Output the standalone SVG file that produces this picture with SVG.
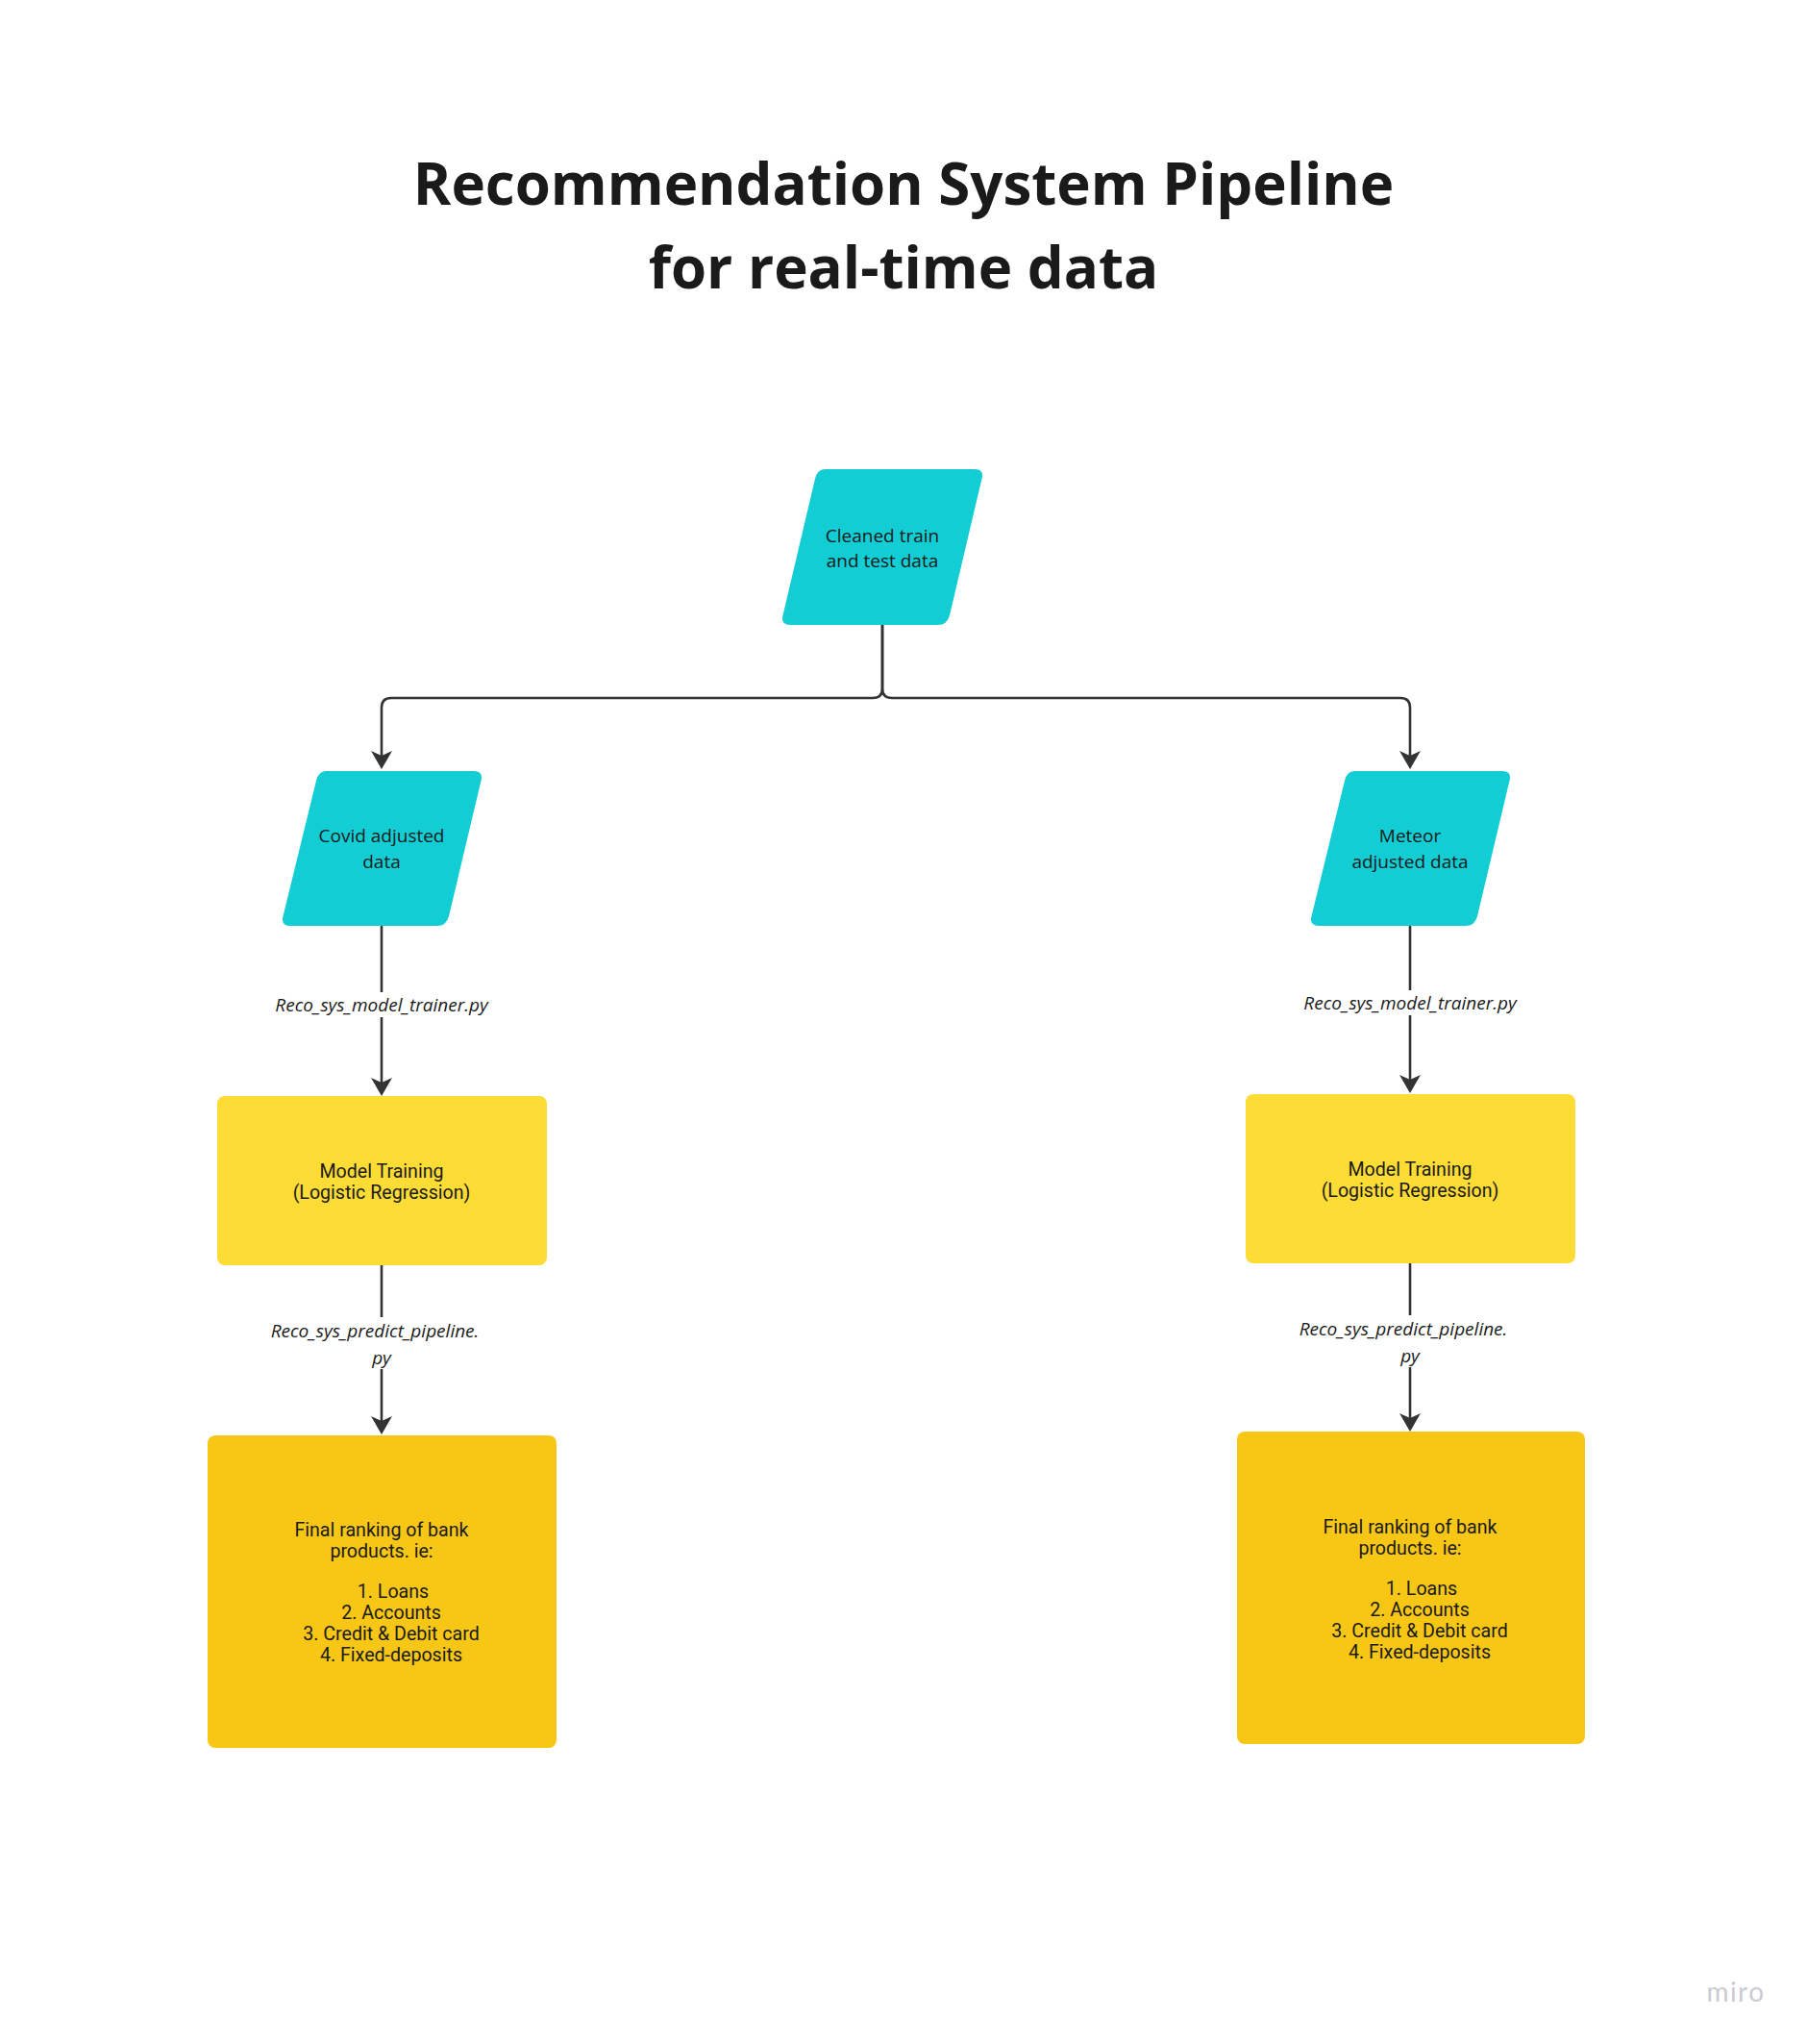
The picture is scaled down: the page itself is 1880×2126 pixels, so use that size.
<svg xmlns="http://www.w3.org/2000/svg" width="1880" height="2126" viewBox="0 0 1880 2126">
<style>
.title{font-family:"Open Sans","Noto Sans",sans-serif;font-weight:700;font-size:60px;fill:#1a1a1a;text-anchor:middle}
.para{fill:#12CDD4}
.ptxt{font-family:"Open Sans","Noto Sans",sans-serif;font-size:19px;fill:#1a1a1a;text-anchor:middle}
.btxt{font-family:Roboto,"Liberation Sans",sans-serif;font-size:19.6px;fill:#1a1a1a;text-anchor:middle}
.lbl{font-family:"Open Sans","Noto Sans",sans-serif;font-style:italic;font-size:19px;fill:#1a1a1a;text-anchor:middle}
.conn{fill:none;stroke:#333333;stroke-width:2.6}
.y1{fill:#FEDC36}
.y2{fill:#F8C715}
</style>
<defs>
<marker id="arr" markerUnits="userSpaceOnUse" markerWidth="26" markerHeight="26" viewBox="-2 -13 26 26" refX="16" refY="0" orient="auto">
<path d="M0,-11 L19,0 L0,11 L5,0 Z" fill="#333333"/>
</marker>
</defs>
<rect width="1880" height="2126" fill="#ffffff"/>
<g id="title">
<text class="title" x="940" y="213">Recommendation System Pipeline</text>
<text class="title" x="940" y="300">for real-time data</text>
</g>
<g id="connectors">
<path class="conn" d="M918,650 V716 Q918,726 908,726 H407 Q397,726 397,736 V797" marker-end="url(#arr)"/>
<path class="conn" d="M918,650 V716 Q918,726 928,726 H1457 Q1467,726 1467,736 V797" marker-end="url(#arr)"/>
<path class="conn" d="M397,963 V1032"/>
<path class="conn" d="M397,1058 V1137" marker-end="url(#arr)"/>
<path class="conn" d="M1467,963 V1030"/>
<path class="conn" d="M1467,1056 V1134" marker-end="url(#arr)"/>
<path class="conn" d="M397,1316 V1370"/>
<path class="conn" d="M397,1424 V1489" marker-end="url(#arr)"/>
<path class="conn" d="M1467,1314 V1368"/>
<path class="conn" d="M1467,1422 V1486" marker-end="url(#arr)"/>
<text class="lbl" x="397" y="1052">Reco_sys_model_trainer.py</text>
<text class="lbl" x="1467" y="1050">Reco_sys_model_trainer.py</text>
<text class="lbl" x="390" y="1391">Reco_sys_predict_pipeline.</text>
<text class="lbl" x="397" y="1419">py</text>
<text class="lbl" x="1460" y="1389">Reco_sys_predict_pipeline.</text>
<text class="lbl" x="1467" y="1417">py</text>
</g>
<g id="cleaned">
<path class="para" d="M858,488 H1014 Q1024,488 1021.5,498 L988,640 Q985.5,650 975.5,650 H822 Q812,650 814.5,640 L848,498 Q850.5,488 858,488 Z"/>
<text class="ptxt" x="918" y="563.5">Cleaned train</text>
<text class="ptxt" x="918" y="589.5">and test data</text>
</g>
<g id="covid">
<path class="para" d="M339,802 H493 Q503,802 500.5,812 L467,953 Q464.5,963 454.5,963 H302 Q292,963 294.5,953 L329,812 Q331.5,802 339,802 Z"/>
<text class="ptxt" x="397" y="876">Covid adjusted</text>
<text class="ptxt" x="397" y="903">data</text>
</g>
<g id="meteor">
<path class="para" d="M1409,802 H1563 Q1573,802 1570.5,812 L1537,953 Q1534.5,963 1524.5,963 H1372 Q1362,963 1364.5,953 L1399,812 Q1401.5,802 1409,802 Z"/>
<text class="ptxt" x="1467" y="876">Meteor</text>
<text class="ptxt" x="1467" y="903">adjusted data</text>
</g>
<g id="train-left">
<rect class="y1" x="226" y="1140" width="343" height="176" rx="8"/>
<text class="btxt" x="397" y="1224.5">Model Training</text>
<text class="btxt" x="397" y="1246.5">(Logistic Regression)</text>
</g>
<g id="train-right">
<rect class="y1" x="1296" y="1138" width="343" height="176" rx="8"/>
<text class="btxt" x="1467" y="1222.5">Model Training</text>
<text class="btxt" x="1467" y="1244.5">(Logistic Regression)</text>
</g>
<g id="final-left">
<rect class="y2" x="216" y="1493" width="363" height="325" rx="8"/>
<text class="btxt" x="397" y="1597.5">Final ranking of bank</text>
<text class="btxt" x="397" y="1619.5">products. ie:</text>
<text class="btxt" x="409" y="1661.5">1. Loans</text>
<text class="btxt" x="407" y="1684">2. Accounts</text>
<text class="btxt" x="407" y="1705.5">3. Credit &amp; Debit card</text>
<text class="btxt" x="407" y="1727.5">4. Fixed-deposits</text>
</g>
<g id="final-right">
<rect class="y2" x="1287" y="1489" width="362" height="325" rx="8"/>
<text class="btxt" x="1467" y="1594.5">Final ranking of bank</text>
<text class="btxt" x="1467" y="1616.5">products. ie:</text>
<text class="btxt" x="1479" y="1658.5">1. Loans</text>
<text class="btxt" x="1477" y="1681">2. Accounts</text>
<text class="btxt" x="1477" y="1702.5">3. Credit &amp; Debit card</text>
<text class="btxt" x="1477" y="1724.5">4. Fixed-deposits</text>
</g>
<g id="logo">
<text x="1806" y="2082" style="font-family:Lato,'Noto Sans',sans-serif;font-size:28px;font-weight:400;fill:#CBCBD3;text-anchor:middle;letter-spacing:1.5px">miro</text>
</g>
</svg>
